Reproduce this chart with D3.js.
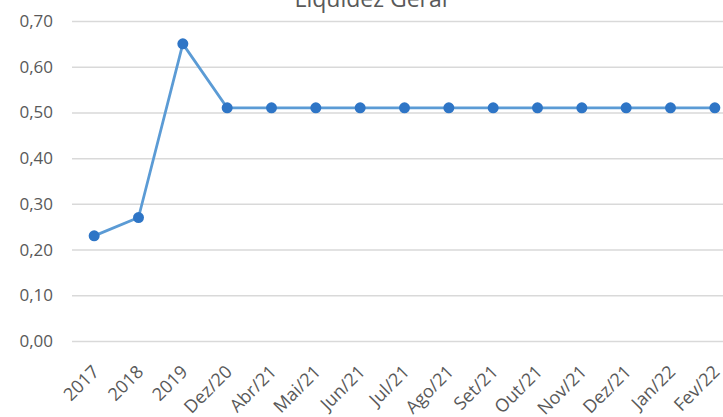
<!DOCTYPE html>
<html>
<head>
<meta charset="utf-8">
<script src="https://cdn.jsdelivr.net/npm/d3@7"></script>
<style>
  body { margin: 0; background: #fff; }
  svg { display: block; }
  svg text { font-family: "Open Sans", "Noto Sans", sans-serif; fill: #595959; }
</style>
</head>
<body>
<div id="chart"></div>
<script>
// data
var categories = ['2017', '2018', '2019', 'Dez/20', 'Abr/21', 'Mai/21', 'Jun/21', 'Jul/21',
                  'Ago/21', 'Set/21', 'Out/21', 'Nov/21', 'Dez/21', 'Jan/22', 'Fev/22'];
var values = [0.23, 0.27, 0.65, 0.51, 0.51, 0.51, 0.51, 0.51, 0.51, 0.51, 0.51, 0.51, 0.51, 0.51, 0.51];
var yTicks = [0, 0.1, 0.2, 0.3, 0.4, 0.5, 0.6, 0.7];
var title = 'Liquidez Geral';

var W = 723, H = 417;
var margin = {top: 21, right: -14, bottom: 76, left: 72};
var width = W - margin.left - margin.right,
    height = H - margin.top - margin.bottom;

var svg = d3.select('#chart').append('svg')
            .attr('width', W)
            .attr('height', H);

var chart = svg.append('g')
            .attr('transform', 'translate(' + margin.left + ',' + margin.top + ')');

// scales
var xScale = d3.scaleBand()
                .domain(categories)
                .range([0, width]);
var yScale = d3.scaleLinear()
                .domain([0, 0.7])
                .range([height, 0]);

var fmt = function(d) { return d.toFixed(2).replace('.', ','); };

// gridlines + y labels
var yAxis = d3.axisLeft(yScale)
                .tickValues(yTicks)
                .tickSize(-width)
                .tickPadding(19)
                .tickFormat(fmt);
var yAxisG = chart.append('g').attr('class', 'axis').call(yAxis);
yAxisG.select('.domain').remove();
yAxisG.selectAll('line').attr('stroke', '#d9d9d9').attr('stroke-width', 1.5);
yAxisG.selectAll('text').style('font-size', '17px');

// x labels
var xAxis = d3.axisBottom(xScale).tickSize(0).tickPadding(0);
var xAxisG = chart.append('g')
                .attr('class', 'axis')
                .attr('transform', 'translate(0,' + height + ')')
                .call(xAxis);
xAxisG.select('.domain').remove();
xAxisG.selectAll('text')
    .style('font-size', '18px')
    .attr('text-anchor', 'end')
    .attr('y', 0)
    .attr('dy', null)
    .attr('transform', 'translate(6,32) rotate(-45)');

// line
var cx = function(d, i) { return xScale(categories[i]) + xScale.bandwidth() / 2; };
var line = d3.line()
            .x(cx)
            .y(function(d) { return yScale(d); });

chart.append('path')
    .attr('d', line(values))
    .attr('fill', 'none')
    .attr('stroke', '#5b9bd5')
    .attr('stroke-width', 2.75);

chart.selectAll('circle')
    .data(values)
    .enter()
    .append('circle')
    .attr('cx', cx)
    .attr('cy', function(d) { return yScale(d); })
    .attr('r', 5.5)
    .attr('fill', '#2e75c6');

// title (cut off at the top)
svg.append('text')
    .attr('x', 371)
    .attr('y', 7)
    .attr('text-anchor', 'middle')
    .style('font-size', '23px')
    .text(title);
</script>
</body>
</html>
